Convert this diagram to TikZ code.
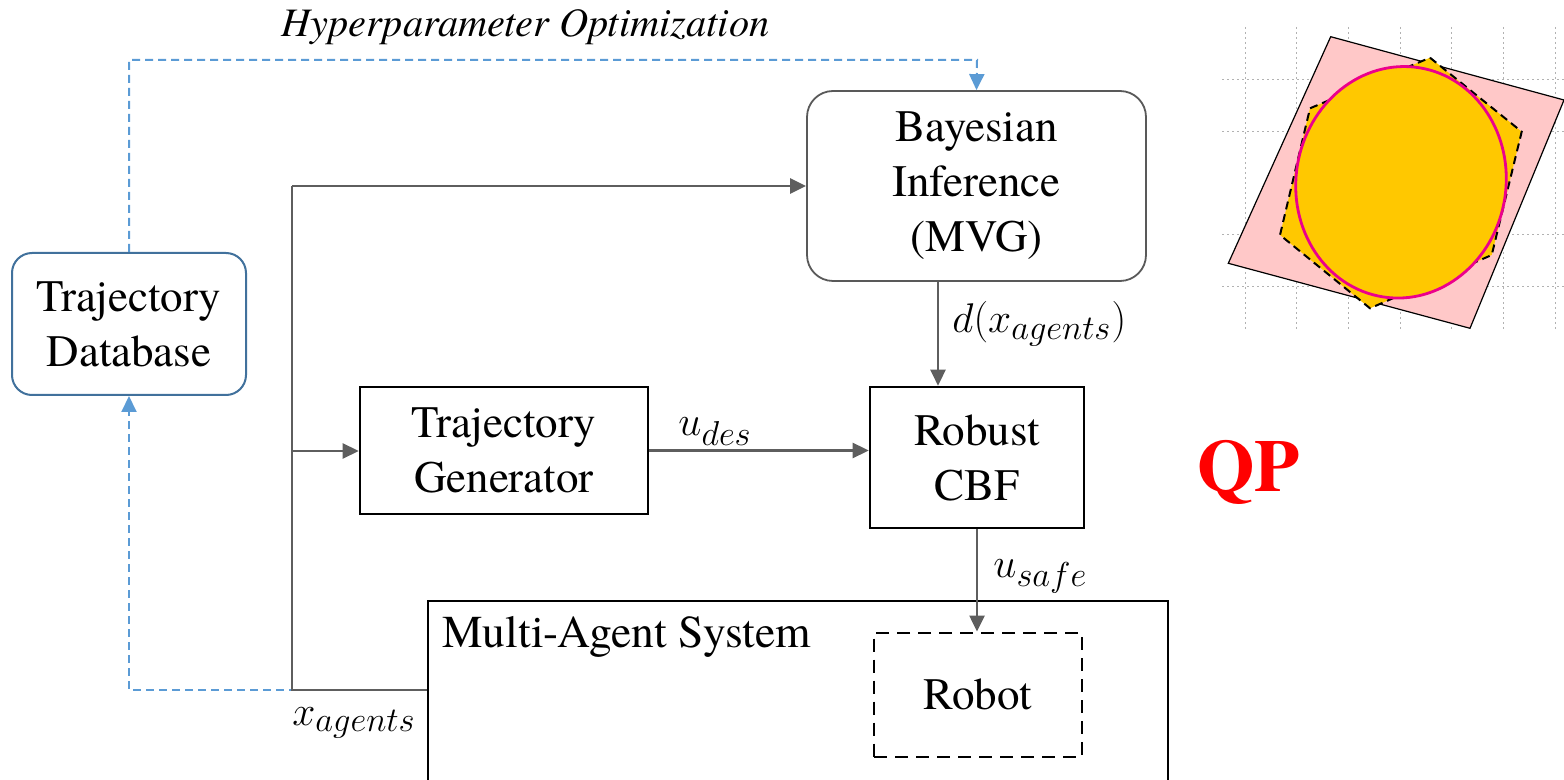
\documentclass[tikz,border=0pt]{standalone}
\usepackage{fontspec}
\setmainfont{texgyretermes}[Extension=.otf, UprightFont=*-regular, BoldFont=*-bold, ItalicFont=*-italic, BoldItalicFont=*-bolditalic, Ligatures=TeX]
\DeclareMathSizes{22}{22}{18}{14}
\usetikzlibrary{arrows.meta,calc}
\definecolor{conngray}{HTML}{5E5E5E}
\definecolor{boxgray}{HTML}{595959}
\definecolor{tdbblue}{HTML}{41719C}
\definecolor{dashblue}{HTML}{5B9BD5}
\definecolor{pinkfill}{HTML}{FFC8C8}
\definecolor{goldfill}{HTML}{FFC800}
\definecolor{qpred}{HTML}{FF0000}
\tikzset{
  boxtext/.style={font=\fontsize{22.5}{27.5}\selectfont, align=center, inner sep=0pt},
  roundbox/.style={boxtext, draw=boxgray, line width=0.9pt, rounded corners=13pt},
  tdbbox/.style={boxtext, draw=tdbblue, line width=1pt, rounded corners=10pt},
  plainbox/.style={boxtext, draw=black, line width=1.3pt},
  robotbox/.style={boxtext, draw=black, line width=1.2pt, dash pattern=on 6.5pt off 4pt},
  gl/.style={draw=conngray, line width=1.3pt},
  tip/.style={-{Triangle[length=8pt,width=7.5pt]}},
  bl/.style={draw=dashblue, line width=1pt, dash pattern=on 4pt off 2.5pt},
  btip/.style={-{Triangle[length=8pt,width=7.5pt,fill=dashblue]}},
  mathlbl/.style={font=\fontsize{22}{26}\selectfont, inner sep=0pt, anchor=base west},
  griddot/.style={draw=black!30, line width=0.5pt, dash pattern=on 1pt off 1.5pt},
}
\begin{document}
\begin{tikzpicture}[x=0.5pt,y=-0.5pt]
\useasboundingbox (0,0) rectangle (1564,780);

% ---------- small figure (top right) ----------
\foreach \k in {0,...,6} {
  \draw[griddot] ({1245+\k*51.67},27) -- ({1245+\k*51.67},330);
}
\foreach \yy in {80,132,235,287} {
  \draw[griddot] (1222,\yy) -- (1564,\yy);
}
\draw[fill=pinkfill, draw=black, line width=0.6pt]
  (1330.7,36.7) -- (1564,100) -- (1470,328.3) -- (1228.3,263.3) -- cycle;
\draw[fill=goldfill, draw=black, line width=1pt, dash pattern=on 4pt off 2.5pt]
  (1430,57.7) -- (1521.7,131.7) -- (1491.7,255) -- (1370,308.3) -- (1280,235) -- (1310,108.3) -- cycle;
\draw[fill=goldfill, draw=magenta, line width=1.4pt, rotate around={-9:(1401,182.3)}]
  (1401,182.3) ellipse [x radius=105, y radius=116];

% ---------- nodes ----------
\node[tdbbox, minimum width=117pt, minimum height=71pt] (tdb) at (129,324) {Trajectory\\Database};
\node[roundbox, minimum width=169.5pt, minimum height=95pt] (bay) at (976.5,186) {Bayesian\\Inference\\(MVG)};
\node[plainbox, minimum width=144pt, minimum height=63.5pt] (tg) at (504,450.5) {Trajectory\\Generator};
\node[plainbox, minimum width=107pt, minimum height=70.5pt] (cbf) at (977,457.5) {Robust\\CBF};
\node[plainbox, minimum width=370pt, minimum height=110pt] (mas) at (798,711) {};
\node[boxtext, anchor=base west, font=\fontsize{22.8}{27.5}\selectfont] (mastext) at (442,647) {Multi-Agent System};
\node[robotbox, minimum width=104pt, minimum height=62pt] (robot) at (978,694.7) {Robot};

\node[font=\fontsize{37}{40}\selectfont\bfseries, text=qpred, inner sep=0pt, anchor=base west] (qp) at (1197,492) {QP};

% ---------- coordinates ----------
\coordinate (jtop) at (292,186);
\coordinate (jmid) at (292,451);
\coordinate (jbot) at (292,690);
\coordinate (hpc) at (977,60);
\coordinate (dx) at (938,0);

% ---------- blue dashed connectors ----------
\draw[bl, btip] (jbot -| mas.west) -| (tdb.south);
\draw[bl, btip] (tdb.north) |- (hpc) -- (bay.north);

% ---------- gray connectors ----------
\draw[gl] (jbot -| mas.west) -- (jbot) -- (jtop);
\draw[gl, tip] (jtop) -- (bay.west |- jtop);
\draw[gl, tip] (jmid) -- (tg.west |- jmid);
\draw[gl, tip] (tg.east) -- (cbf.west |- tg.east);
\draw[gl, tip] (bay.south -| dx) -- (cbf.north -| dx);
\draw[gl, tip] (cbf.south) -- (cbf.south |- robot.north);

% ---------- labels ----------
\node[font=\fontsize{20.2}{24}\selectfont\itshape, inner sep=0pt, anchor=base west] (hplbl) at (281,37) {Hyperparameter Optimization};
\node[mathlbl] (dlbl) at (952,333) {$d\bigl(x_{agents}\bigr)$};
\node[mathlbl] (udlbl) at (678,436) {$u_{des}$};
\node[mathlbl] (uslbl) at (993,577) {$u_{safe}$};
\node[mathlbl] (xalbl) at (292,725) {$x_{agents}$};
\end{tikzpicture}
\end{document}
